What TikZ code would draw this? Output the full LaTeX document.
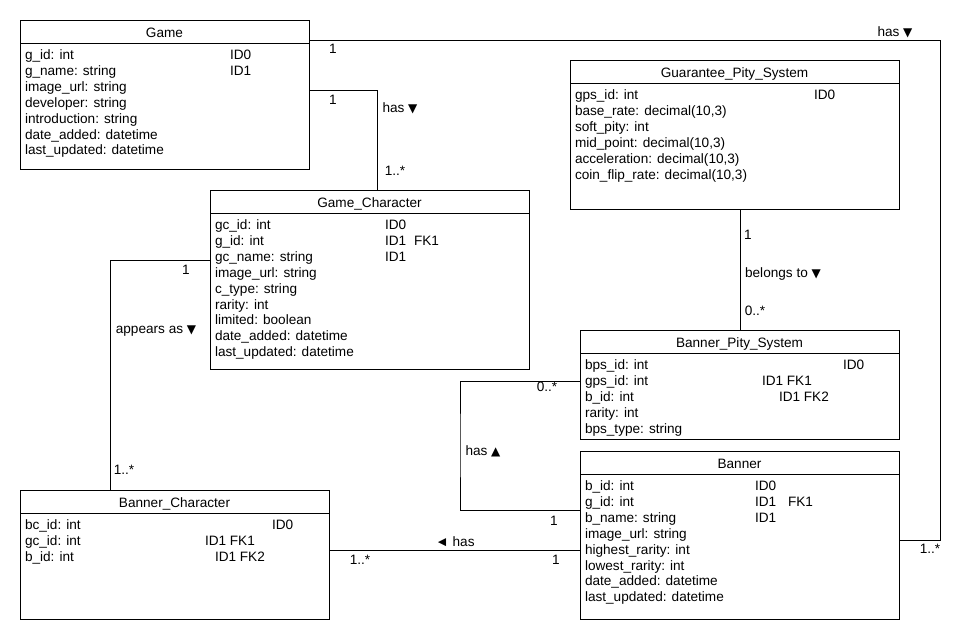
\documentclass[tikz,border=0pt]{standalone}
\usepackage{fontspec}
\setmainfont{Liberation Sans}
\newfontfamily\markfont{DejaVu Sans}
\usetikzlibrary{calc}
\tikzset{
  erbox/.style={draw, line width=1pt, anchor=north west, inner sep=0pt, outer sep=0pt},
  txt/.style={inner sep=0pt, outer sep=0pt, font=\fontsize{13.6}{16}\selectfont},
  attr/.style={txt, anchor=base west},
  lbl/.style={txt, anchor=base},
  link/.style={line width=1pt},
}
% direction marks for association names
\newcommand\markdown{{\markfont\fontsize{12}{14}\selectfont ▼}}
\newcommand\markup{{\markfont\fontsize{12}{14}\selectfont ▲}}
% entity box: name, x, y, width, height, title
\newcommand\erbox[6]{%
  \node[erbox, minimum width=#4pt, minimum height=#5pt] (#1) at (#2,#3) {};
  \draw[line width=1pt] ([yshift=-23pt]#1.north west) -- ([yshift=-23pt]#1.north east);
  \node[lbl] (#1-title) at ([yshift=-17pt]#1.north) {#6};
}
% attribute row: box, row number, text
\newcommand\attr[3]{\node[attr] (#1-r#2) at ([xshift=5pt,yshift={-39.5pt-15.9pt*(#2-1)}]#1.north west) {#3};}
% key column entry: box, row number, x offset, text, name suffix
\newcommand\keycol[5]{\node[attr] (#1-k#2#5) at ([xshift=#3pt,yshift={-39.5pt-15.9pt*(#2-1)}]#1.north west) {#4};}

\begin{document}
\begin{tikzpicture}[x=1pt, y=-1pt]
\useasboundingbox (0,0) rectangle (980,640);

% ---------- Game ----------
\erbox{game}{20}{20}{289}{149}{Game}
\attr{game}{1}{g\_id: int}
\attr{game}{2}{g\_name: string}
\attr{game}{3}{image\_url: string}
\attr{game}{4}{developer: string}
\attr{game}{5}{introduction: string}
\attr{game}{6}{date\_added: datetime}
\attr{game}{7}{last\_updated: datetime}
\keycol{game}{1}{210}{ID0}{a}
\keycol{game}{2}{210}{ID1}{a}

% ---------- Game_Character ----------
\erbox{gc}{210}{190}{319}{179}{Game\_Character}
\attr{gc}{1}{gc\_id: int}
\attr{gc}{2}{g\_id: int}
\attr{gc}{3}{gc\_name: string}
\attr{gc}{4}{image\_url: string}
\attr{gc}{5}{c\_type: string}
\attr{gc}{6}{rarity: int}
\attr{gc}{7}{limited: boolean}
\attr{gc}{8}{date\_added: datetime}
\attr{gc}{9}{last\_updated: datetime}
\keycol{gc}{1}{175}{ID0}{a}
\keycol{gc}{2}{175}{ID1}{a}
\keycol{gc}{2}{204}{FK1}{b}
\keycol{gc}{3}{175}{ID1}{a}

% ---------- Guarantee_Pity_System ----------
\erbox{gps}{570}{60}{329}{149}{Guarantee\_Pity\_System}
\attr{gps}{1}{gps\_id: int}
\attr{gps}{2}{base\_rate: decimal(10,3)}
\attr{gps}{3}{soft\_pity: int}
\attr{gps}{4}{mid\_point: decimal(10,3)}
\attr{gps}{5}{acceleration: decimal(10,3)}
\attr{gps}{6}{coin\_flip\_rate: decimal(10,3)}
\keycol{gps}{1}{244}{ID0}{a}

% ---------- Banner_Pity_System ----------
\erbox{bps}{580}{330}{319}{109}{Banner\_Pity\_System}
\attr{bps}{1}{bps\_id: int}
\attr{bps}{2}{gps\_id: int}
\attr{bps}{3}{b\_id: int}
\attr{bps}{4}{rarity: int}
\attr{bps}{5}{bps\_type: string}
\keycol{bps}{1}{263}{ID0}{a}
\keycol{bps}{2}{182}{ID1 FK1}{a}
\keycol{bps}{3}{199}{ID1 FK2}{a}

% ---------- Banner ----------
\erbox{banner}{580}{451}{319}{168}{Banner}
\attr{banner}{1}{b\_id: int}
\attr{banner}{2}{g\_id: int}
\attr{banner}{3}{b\_name: string}
\attr{banner}{4}{image\_url: string}
\attr{banner}{5}{highest\_rarity: int}
\attr{banner}{6}{lowest\_rarity: int}
\attr{banner}{7}{date\_added: datetime}
\attr{banner}{8}{last\_updated: datetime}
\keycol{banner}{1}{175}{ID0}{a}
\keycol{banner}{2}{175}{ID1}{a}
\keycol{banner}{2}{208}{FK1}{b}
\keycol{banner}{3}{175}{ID1}{a}

% ---------- Banner_Character ----------
\erbox{bc}{20}{490}{309}{129}{Banner\_Character}
\attr{bc}{1}{bc\_id: int}
\attr{bc}{2}{gc\_id: int}
\attr{bc}{3}{b\_id: int}
\keycol{bc}{1}{252}{ID0}{a}
\keycol{bc}{2}{185}{ID1 FK1}{a}
\keycol{bc}{3}{195}{ID1 FK2}{a}

% ---------- connector end points ----------
\coordinate (gameA) at ($(game.north east)+(0,20)$);
\coordinate (gameB) at ($(game.north east)+(0,70)$);
\coordinate (gcTop) at ($(gc.north west)+(167,0)$);
\coordinate (gcLeft) at ($(gc.north west)+(0,70)$);
\coordinate (bcTop) at ($(bc.north west)+(90,0)$);
\coordinate (bcRight) at ($(bc.north east)+(0,60)$);
\coordinate (gpsBottom) at ($(gps.south west)+(170,0)$);
\coordinate (bpsTop) at ($(bps.north west)+(160,0)$);
\coordinate (bpsLeft) at ($(bps.north west)+(0,51)$);
\coordinate (bannerLeftA) at ($(banner.north west)+(0,59)$);
\coordinate (bannerLeftB) at ($(banner.north west)+(0,99)$);
\coordinate (bannerRight) at ($(banner.north east)+(0,89)$);
\coordinate (rail) at (940,300);
\coordinate (loop) at (460,445);

% ---------- connectors ----------
\draw[link] (gameA) -| (rail) |- (bannerRight);
\draw[link] (gameB) -| (gcTop);
\draw[link] (gcLeft) -| (bcTop);
\draw[link] (gpsBottom) -- (bpsTop);
\draw[link] (bpsLeft) -| (loop) |- (bannerLeftA);
\draw[link] (bcRight) -- (bannerLeftB);

% ---------- connector labels ----------
\node[lbl] (l1name) at (895,36) {has \markdown};
\node[lbl] (l1a) at (333,53) {1};
\node[lbl] (l1b) at (930,553) {1..*};

\node[lbl] (l2name) at (400,112) {has \markdown};
\node[lbl] (l2a) at (333,104) {1};
\node[lbl] (l2b) at (395,175) {1..*};

\node[lbl] (l3name) at (156,333) {appears as \markdown};
\node[lbl] (l3a) at (186,274) {1};
\node[lbl] (l3b) at (124,474) {1..*};

\node[lbl] (l4name) at (783,277) {belongs to \markdown};
\node[lbl] (l4a) at (748,239) {1};
\node[lbl] (l4b) at (755,315) {0..*};

\node[lbl] (l5name) at (483,455) {has \markup};
\node[lbl] (l5a) at (547,391) {0..*};
\node[lbl] (l5b) at (554,525) {1};

\node[lbl] (l6name) at (455,546) {◄ has};
\node[lbl] (l6a) at (360,564) {1..*};
\node[lbl] (l6b) at (556,564) {1};
\end{tikzpicture}
\end{document}
